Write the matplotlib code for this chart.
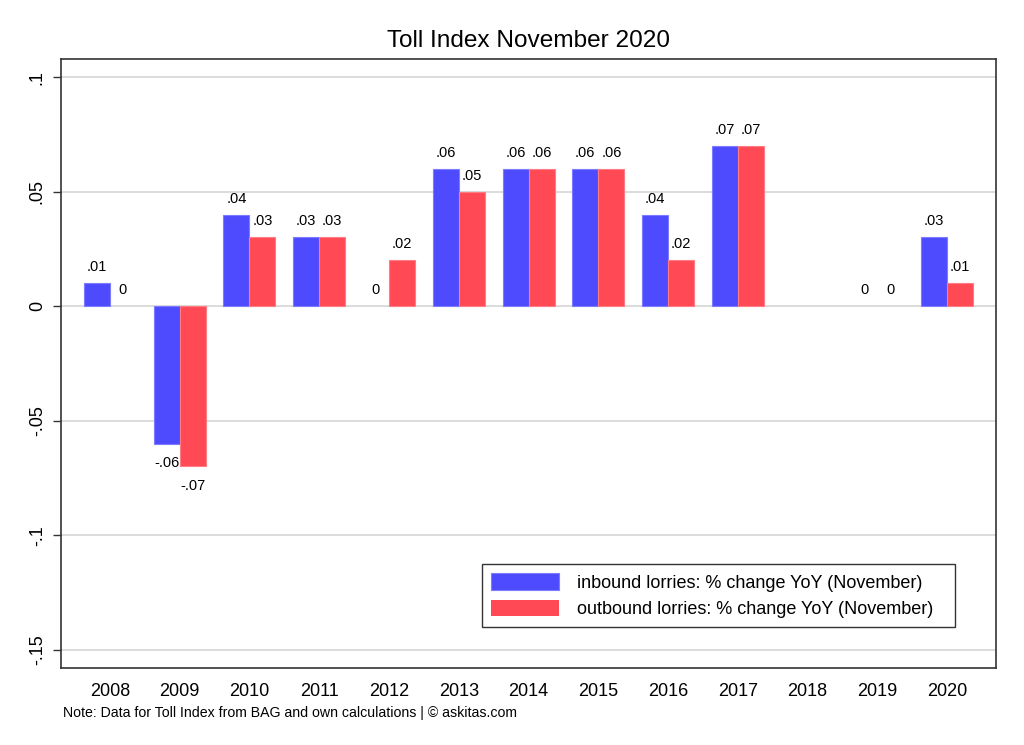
import numpy as np
import matplotlib.pyplot as plt
from matplotlib.ticker import FixedLocator

plt.rcParams['font.family'] = ['Liberation Sans', 'DejaVu Sans']

years = ['2008', '2009', '2010', '2011', '2012', '2013', '2014',
         '2015', '2016', '2017', '2018', '2019', '2020']
# 2018 has no data
inbound = [0.01, -0.06, 0.04, 0.03, 0.0, 0.06, 0.06, 0.06, 0.04, 0.07, np.nan, 0.0, 0.03]
outbound = [0.0, -0.07, 0.03, 0.03, 0.02, 0.05, 0.06, 0.06, 0.02, 0.07, np.nan, 0.0, 0.01]
yticks = [0.1, 0.05, 0.0, -0.05, -0.1, -0.15]

label_in = 'inbound lorries: % change YoY (November)'
label_out = 'outbound lorries: % change YoY (November)'

BLUE = '#4e4bff'
RED = '#ff4a55'


def fmt(v):
    # stata style: drop the leading zero
    if v == 0:
        return '0'
    s = f'{v:.2f}'.rstrip('0')
    return s.replace('0.', '.')


fig = plt.figure(figsize=(10.24, 7.45), dpi=100)
ax = fig.add_axes([0.0596, 0.1034, 0.9131, 0.8174])

x = np.arange(len(years))
w = 0.373
b1 = ax.bar(x - w / 2, inbound, w, color=BLUE, edgecolor='#7d7bff', linewidth=0.8,
            label=label_in, zorder=3)
b2 = ax.bar(x + w / 2, outbound, w, color=RED, edgecolor='#ff7c84', linewidth=0.8,
            label=label_out, zorder=3)

for bars, vals in ((b1, inbound), (b2, outbound)):
    for rect, v in zip(bars, vals):
        if np.isnan(v):
            continue
        if v == 0:
            # zero bars are not visible in the original
            rect.set_linewidth(0)
        cx = rect.get_x() + rect.get_width() / 2
        off = 11.5 if v >= 0 else -14
        ax.annotate(fmt(v), (cx, v), xytext=(0, off), textcoords='offset points',
                    ha='center', va='center', fontsize=10.5)

ax.set_xlim(-0.7, 12.7)
ax.set_ylim(-0.158, 0.1079)
ax.set_xticks(x)
ax.set_xticklabels(years, fontsize=13)
ax.yaxis.set_major_locator(FixedLocator(yticks))
ax.set_yticklabels([fmt(t) for t in yticks], fontsize=13, rotation=90, va='center')
ax.tick_params(axis='x', length=0, pad=11)
ax.tick_params(axis='y', length=6, width=1.0, color='#333333', pad=5)

ax.grid(axis='y', color='#dcdcdc', linewidth=1.4, zorder=0)
ax.set_axisbelow(True)
for s in ax.spines.values():
    s.set_color('#333333')
    s.set_linewidth(1.2)

ax.set_title('Toll Index November 2020', fontsize=17.6, pad=9)

leg = ax.legend(loc='lower left', bbox_to_anchor=(0.4503, 0.067, 0.5059, 0.1),
                mode='expand', fontsize=13,
                frameon=True, fancybox=False, edgecolor='#333333', framealpha=1,
                handlelength=3.75, handleheight=1.05, handletextpad=1.0,
                borderpad=0.5, labelspacing=0.42, borderaxespad=0)
leg.get_frame().set_linewidth(1.0)

fig.text(0.062, 0.043, 'Note: Data for Toll Index from BAG and own calculations | \u00a9 askitas.com',
         fontsize=10.2, ha='left', va='center')

fig.savefig('out.png', dpi=100, facecolor='white')
